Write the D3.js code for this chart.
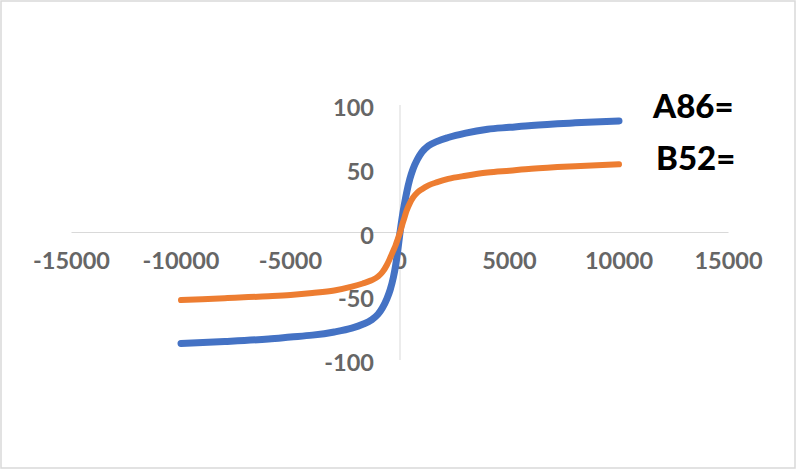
<!DOCTYPE html>
<html><head><meta charset="utf-8">
<script src="https://cdn.jsdelivr.net/npm/d3@7/dist/d3.min.js"></script>
<style>html,body{margin:0;padding:0;background:#fff;}svg{display:block;}</style>
</head><body>
<svg id="c" width="797" height="470"></svg>
<script>
const xValues = [-10000,-8000,-6000,-5000,-4000,-3000,-2200,-1700,-1300,-1000,-800,-600,-450,-300,-200,-100,0,100,200,300,450,600,800,1000,1300,1700,2200,3000,4000,5000,6000,8000,10000];
const seriesA = [-87,-85.5,-83.5,-82,-80.5,-78,-75,-72,-68.5,-64,-59,-52,-45,-35,-26,-14,0,12,22,31,42,50,57.5,63,68,71.5,74.5,78,81,82.5,84,86,87.5];
const seriesB = [-53,-51.5,-50,-49,-47.5,-45.5,-42.5,-40,-37.5,-34.5,-31,-25.5,-20,-14,-10,-5,0,6,11.5,17,23,27.5,31.5,34,37,39.5,42,44.5,47,48.5,50,52,53.5];
const xTicks = [-15000,-10000,-5000,0,5000,10000,15000];
const yTicks = [-100,-50,0,50,100];
const seriesNames = ["A86=","B52="];
const colors = ["#4472C4","#ED7D31"];

const svg = d3.select("#c");
svg.append("rect").attr("x",1).attr("y",1).attr("width",794).attr("height",467)
  .attr("fill","#fff").attr("stroke","#d9d9d9").attr("stroke-width",1.5);

const x = d3.scaleLinear().domain([-15000,15000]).range([71.5,728.5]);
const y = d3.scaleLinear().domain([-100,100]).range([360,105]);

svg.append("line").attr("x1",x(-15000)).attr("x2",x(15000)).attr("y1",y(0)).attr("y2",y(0))
  .attr("stroke","#d9d9d9").attr("stroke-width",1);
svg.append("line").attr("x1",x(0)).attr("x2",x(0)).attr("y1",y(100)).attr("y2",y(-100))
  .attr("stroke","#d9d9d9").attr("stroke-width",1);

const font = "Lato, 'Open Sans', sans-serif";
svg.append("g").selectAll("text").data(yTicks).join("text")
  .attr("x",374).attr("y",d=>y(d)+5).attr("dominant-baseline","middle")
  .attr("text-anchor","end").attr("font-family",font).attr("font-weight","bold")
  .attr("font-size",23.5).attr("fill","#666").text(d=>d);
svg.append("g").selectAll("text").data(xTicks).join("text")
  .attr("x",d=>x(d)).attr("y",y(0)+36).attr("text-anchor","middle")
  .attr("font-family",font).attr("font-weight","bold")
  .attr("font-size",23.5).attr("fill","#666").text(d=>d);

const line = d3.line().x(d=>x(d[0])).y(d=>y(d[1])).curve(d3.curveMonotoneX);
[seriesA,seriesB].forEach((s,i)=>{
  svg.append("path").datum(xValues.map((xv,j)=>[xv,s[j]]))
    .attr("d",line).attr("fill","none").attr("stroke",colors[i])
    .attr("stroke-width",i===0?7:6).attr("stroke-linecap","round").attr("stroke-linejoin","round");
});

svg.append("g").selectAll("text").data(seriesNames).join("text")
  .attr("x",(d,i)=>[653,656][i]).attr("y",(d,i)=>[118,170][i]).attr("text-anchor","start")
  .attr("font-family",font).attr("font-weight","900").attr("font-size",33)
  .attr("fill","#000").text(d=>d);
</script>
</body></html>
